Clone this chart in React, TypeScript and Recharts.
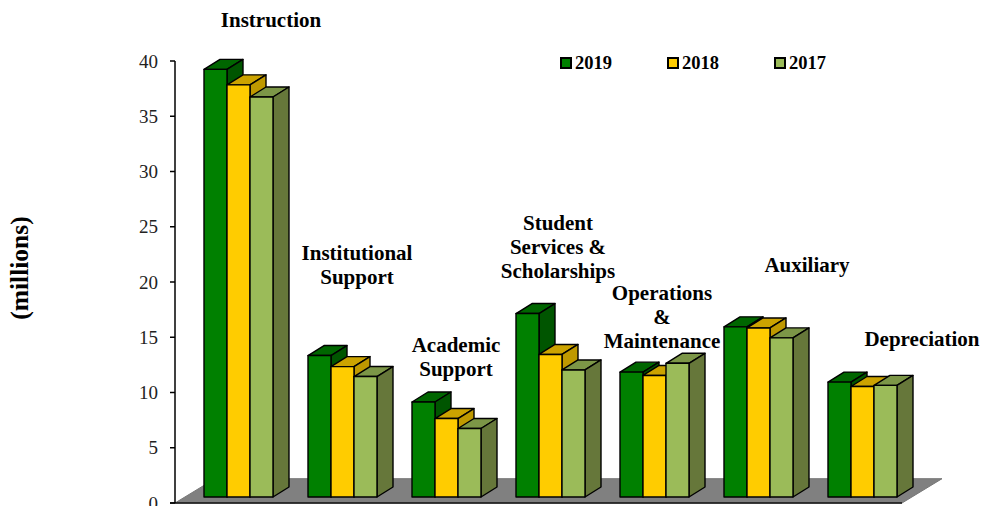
import React from 'react';
import { BarChart, Bar, XAxis, YAxis, ReferenceArea, ReferenceDot, Legend } from 'recharts';

const categories = ['Instruction', 'Institutional Support', 'Academic Support', 'Student Services & Scholarships', 'Operations & Maintenance', 'Auxiliary', 'Depreciation'];
const values2019 = [38.7, 12.8, 8.6, 16.6, 11.3, 15.4, 10.4];
const values2018 = [37.3, 11.8, 7.1, 12.9, 11.0, 15.3, 10.0];
const values2017 = [36.2, 10.9, 6.2, 11.5, 12.1, 14.4, 10.1];
const yTicks = [0, 5, 10, 15, 20, 25, 30, 35, 40];
const labelLines = [['Instruction'], ['Institutional', 'Support'], ['Academic', 'Support'], ['Student', 'Services &', 'Scholarships'], ['Operations', '&', 'Maintenance'], ['Auxiliary'], ['Depreciation']];
const labelLevels = [43.7, 22.6, 14.3, 25.3, 19.0, 21.5, 14.8];
const labelShifts = [33, 15, 10, 8, 8, 49, 60];

const data = categories.map((name, i) => ({ name, y2019: values2019[i], y2018: values2018[i], y2017: values2017[i] }));

const FONT = '"Liberation Serif", serif';
const DX = 16;
const DY = 10;
const LIFT = 6;
const PAD = 11;
const TICK_SIZE = 5;
const TICK_MARGIN = 12;

const palette: Record<string, { front: string; top: string; side: string }> = {
  y2019: { front: '#008000', top: '#006600', side: '#005500' },
  y2018: { front: '#FFCC00', top: '#CCA300', side: '#BF9900' },
  y2017: { front: '#9BBB59', top: '#7C9647', side: '#66773A' },
};

const bar3d = (key: string) => (props: any) => {
  const { x, y, width, height } = props;
  const c = palette[key];
  const t = y - LIFT;
  const b = t + height;
  const r = x + width;
  return (
    <g stroke="#000" strokeWidth={1.4} strokeLinejoin="round">
      <polygon points={`${x},${t} ${x + DX},${t - DY} ${r + DX},${t - DY} ${r},${t}`} fill={c.top} />
      <polygon points={`${r},${t} ${r + DX},${t - DY} ${r + DX},${b - DY} ${r},${b}`} fill={c.side} />
      <rect x={x} y={t} width={width} height={height} fill={c.front} />
    </g>
  );
};

const floor = (props: any) => {
  const { x, y, width, height } = props;
  const left = x - PAD;
  const bottom = y + height;
  const right = x + width - 12;
  return (
    <g>
      <polygon points={`${left},${bottom} ${right},${bottom} ${right + 40},${y} ${left + 40},${y}`} fill="#808080" stroke="#777" />
      <line x1={left - TICK_SIZE} x2={right} y1={bottom} y2={bottom} stroke="#111" strokeWidth={1.5} />
    </g>
  );
};

const axisSpine = (props: any) => {
  const { x, y, height } = props;
  return <line x1={x - PAD} x2={x - PAD} y1={y} y2={y + height} stroke="#000" strokeWidth={1.5} />;
};

const yTick = (props: any) => {
  const { x, y, payload } = props;
  return (
    <g>
      <line x1={x + TICK_MARGIN} x2={x + TICK_MARGIN + TICK_SIZE} y1={y} y2={y} stroke="#000" strokeWidth={1.5} />
      <text x={x} y={y} dy="0.355em" textAnchor="end" fontFamily={FONT} fontSize={19} fill="#222">{payload.value}</text>
    </g>
  );
};

const annotation = (i: number) => (props: any) => {
  const { cx, cy } = props;
  return (
    <text x={cx + labelShifts[i]} y={cy} textAnchor="middle" fontFamily={FONT} fontWeight="bold" fontSize={21} fill="#000">
      {labelLines[i].map((line, k) => (
        <tspan key={k} x={cx + labelShifts[i]} y={cy + 7 + k * 24}>{line}</tspan>
      ))}
    </text>
  );
};

const legendContent = () => (
  <div style={{ display: 'flex', fontFamily: FONT, fontWeight: 'bold', fontSize: 18.5, lineHeight: '20px' }}>
    {[['2019', palette.y2019.front], ['2018', palette.y2018.front], ['2017', palette.y2017.front]].map(([label, color]) => (
      <div key={label} style={{ width: 107, display: 'flex', alignItems: 'center' }}>
        <span style={{ width: 8, height: 8, background: color, border: '2px solid #000', marginRight: 3, display: 'inline-block' }} />
        <span>{label}</span>
      </div>
    ))}
  </div>
);

export default function App() {
  return (
    <div style={{ position: 'absolute', left: 0, top: 0, width: 982, height: 506, background: '#fff' }}>
      <BarChart width={982} height={506} data={data} margin={{ top: 61, right: 68, bottom: 3, left: 0 }} barSize={23} barGap={0}>
        <XAxis dataKey="name" hide padding={{ left: PAD, right: 0 }} />
        <YAxis
          width={175}
          domain={[0, 40]}
          ticks={yTicks}
          interval={0}
          tickSize={TICK_SIZE}
          tickMargin={TICK_MARGIN}
          axisLine={false}
          tickLine={false}
          tick={yTick}
          label={{ value: '(millions)', angle: -90, position: 'insideLeft', offset: 19, dy: -14, style: { fontFamily: FONT, fontWeight: 'bold', fontSize: 25.5, fill: '#000', textAnchor: 'middle' } }}
        />
        <ReferenceArea y1={0} y2={2.2} ifOverflow="visible" shape={floor} />
        <ReferenceArea y1={0} y2={40} ifOverflow="visible" shape={axisSpine} />
        <Legend layout="horizontal" verticalAlign="middle" content={legendContent} wrapperStyle={{ left: 560, top: 53, width: 330, height: 20, bottom: 'auto' }} />
        <Bar dataKey="y2019" name="2019" fill="#008000" isAnimationActive={false} shape={bar3d('y2019')} />
        <Bar dataKey="y2018" name="2018" fill="#FFCC00" isAnimationActive={false} shape={bar3d('y2018')} />
        <Bar dataKey="y2017" name="2017" fill="#9BBB59" isAnimationActive={false} shape={bar3d('y2017')} />
        {categories.map((c, i) => (
          <ReferenceDot key={c} x={c} y={labelLevels[i]} r={0} ifOverflow="visible" shape={annotation(i)} />
        ))}
      </BarChart>
    </div>
  );
}
